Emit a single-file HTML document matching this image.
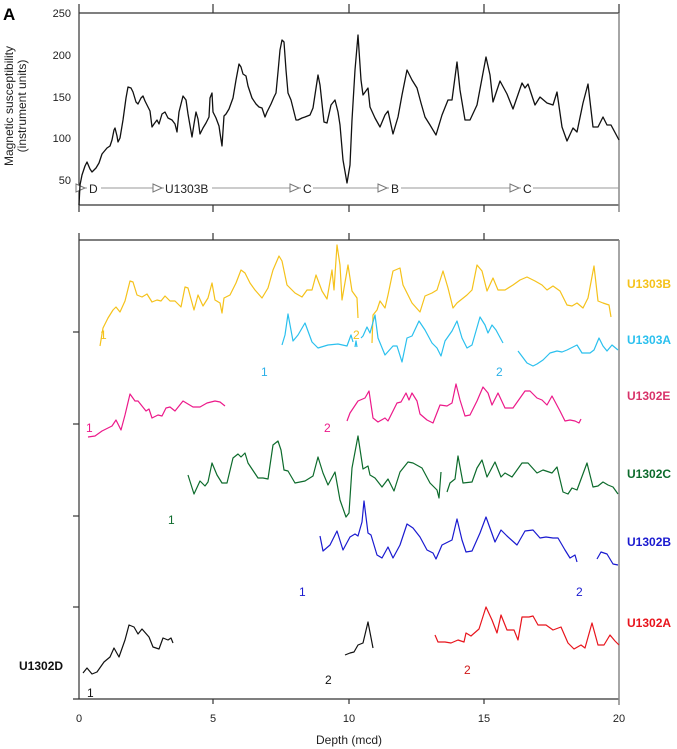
<!DOCTYPE html>
<html><head><meta charset="utf-8"><style>
body{margin:0;background:#fff}
svg{display:block;font-family:"Liberation Sans",Arial,sans-serif}
</style></head><body>
<svg width="677" height="749" viewBox="0 0 677 749" xmlns="http://www.w3.org/2000/svg">
<rect width="677" height="749" fill="#fff"/>
<text x="3" y="20" font-size="17" font-weight="bold">A</text>
<!-- top panel axes -->
<g stroke="#333" stroke-width="1.2" fill="none">
<line x1="79" y1="13" x2="619" y2="13"/>
<line x1="79" y1="205" x2="619" y2="205"/>
<line x1="79" y1="4" x2="79" y2="212"/>
<line x1="213" y1="4" x2="213" y2="13"/><line x1="349" y1="4" x2="349" y2="13"/><line x1="484" y1="4" x2="484" y2="13"/><line x1="619" y1="4" x2="619" y2="13"/>
<line x1="213" y1="205" x2="213" y2="212"/><line x1="349" y1="205" x2="349" y2="212"/><line x1="484" y1="205" x2="484" y2="212"/>
</g>
<line x1="619" y1="13" x2="619" y2="212" stroke="#888" stroke-width="1.5"/>
<g font-size="11" text-anchor="end" fill="#222">
<text x="71" y="17">250</text><text x="71" y="59">200</text><text x="71" y="101">150</text><text x="71" y="142">100</text><text x="71" y="184">50</text>
</g>
<text transform="translate(13,106) rotate(-90)" font-size="12" text-anchor="middle" fill="#222">Magnetic susceptibility</text>
<text transform="translate(26,106) rotate(-90)" font-size="12" text-anchor="middle" fill="#222">(instrument units)</text>
<!-- splice arrows -->
<line x1="79" y1="188" x2="619" y2="188" stroke="#999" stroke-width="1"/>
<g fill="#fff" stroke="#777" stroke-width="1">
<polygon points="76,184 85,188 76,192"/><polygon points="153,184 162,188 153,192"/><polygon points="290,184 299,188 290,192"/><polygon points="378,184 387,188 378,192"/><polygon points="510,184 519,188 510,192"/>
</g>
<g font-size="12" fill="#222">
<rect x="87" y="181" width="14" height="14" fill="#fff"/><text x="89" y="193">D</text>
<rect x="164" y="181" width="48" height="14" fill="#fff"/><text x="165" y="193">U1303B</text>
<rect x="301" y="181" width="12" height="14" fill="#fff"/><text x="303" y="193">C</text>
<rect x="389" y="181" width="12" height="14" fill="#fff"/><text x="391" y="193">B</text>
<rect x="521" y="181" width="12" height="14" fill="#fff"/><text x="523" y="193">C</text>
</g>
<polyline fill="none" stroke="#111" stroke-width="1.3" stroke-linejoin="round" points="79,205 80,185 82,175 85,166 87,162 90,169 92,172 96,168 99,163 102,154 107,148 110,146 112,140 114,130 115,128 117,136 118,142 120,138 123,120 126,98 128,87 131,88 133,92 136,102 138,104 141,98 143,96 145,101 148,107 150,111 152,127 154,124 157,120 159,124 162,114 165,112 168,118 172,120 175,124 177,132 179,112 183,96 186,100 188,114 192,137 194,124 196,112 198,119 200,134 203,128 206,123 209,117 210,98 212,93 213,112 216,118 219,126 220,133 222,146 224,116 226,114 229,109 233,98 236,80 239,64 241,67 243,74 246,76 248,86 252,98 256,104 259,107 262,108 265,117 267,112 271,104 274,97 276,93 278,72 280,50 282,40 284,42 286,70 288,93 291,100 294,112 296,120 298,120 302,118 305,117 310,115 313,108 318,75 320,85 324,122 327,123 331,105 335,100 338,112 340,125 343,160 347,183 350,165 352,120 355,70 358,35 361,80 363,95 368,88 370,107 375,118 380,127 385,115 388,111 393,134 398,117 402,95 407,70 412,80 417,88 421,103 425,117 430,125 436,135 442,115 448,100 452,100 457,62 460,90 465,120 470,120 477,105 486,57 490,75 493,102 500,81 507,94 513,109 522,83 525,88 528,84 535,105 540,97 547,103 553,105 557,92 562,127 567,141 573,128 577,132 583,103 588,84 593,127 598,127 603,117 607,125 611,125 619,140"/>
<!-- bottom panel axes -->
<g stroke="#333" stroke-width="1.2" fill="none">
<line x1="79" y1="240" x2="619" y2="240"/>
<line x1="73" y1="699" x2="619" y2="699"/>
<line x1="79" y1="233" x2="79" y2="699"/>
<line x1="213" y1="233" x2="213" y2="240"/><line x1="349" y1="233" x2="349" y2="240"/><line x1="484" y1="233" x2="484" y2="240"/>
<line x1="213" y1="699" x2="213" y2="704"/><line x1="349" y1="699" x2="349" y2="704"/><line x1="484" y1="699" x2="484" y2="704"/>
<line x1="73" y1="332" x2="79" y2="332"/><line x1="73" y1="424" x2="79" y2="424"/><line x1="73" y1="516" x2="79" y2="516"/><line x1="73" y1="607" x2="79" y2="607"/>
</g>
<line x1="619" y1="240" x2="619" y2="705" stroke="#888" stroke-width="1.5"/>
<g font-size="11" text-anchor="middle" fill="#222">
<text x="79" y="722">0</text><text x="213" y="722">5</text><text x="349" y="722">10</text><text x="484" y="722">15</text><text x="619" y="722">20</text>
<text x="349" y="744" font-size="12">Depth (mcd)</text>
</g>
<g fill="none" stroke-width="1.2" stroke-linejoin="round">
<polyline stroke="#f5c21b" points="100,346 103,328 108,318 113,310 116,307 120,312 125,301 130,281 133,282 137,295 142,297 147,294 152,302 157,300 161,301 165,296 170,301 175,301 181,307 185,287 188,288 194,310 198,295 203,306 208,298 212,283 215,300 220,303 222,313 224,298 230,295 236,283 241,270 245,273 250,283 255,290 262,298 268,288 273,270 279,256 282,261 287,285 295,293 302,297 307,290 312,290 316,275 322,291 327,299 332,270 334,290 337,245 340,265 342,300 348,265 352,291 357,298 358,318"/>
<polyline stroke="#f5c21b" points="372,343 373,315 377,310 380,301 385,308 388,295 393,271 400,268 403,285 412,303 420,312 425,296 432,293 437,290 443,271 448,288 453,308 457,303 467,295 472,290 477,265 482,271 487,291 493,278 498,290 505,290 513,285 520,280 527,277 535,281 542,285 547,290 553,286 560,291 567,305 572,306 577,303 583,308 588,298 594,266 598,301 603,303 609,305 611,317"/>
<polyline stroke="#2bc0ee" points="282,345 285,335 288,314 293,341 298,335 305,323 312,342 318,348 328,345 338,344 347,346 351,335 353,342"/>
<polyline stroke="#2bc0ee" points="355,347 356,341 357,347"/>
<polyline stroke="#2bc0ee" points="361,338 363,336 367,327 370,333 375,315 378,338 385,355 393,346 397,346 402,362 407,338 412,336 419,321 425,330 432,343 437,348 441,356 445,341 452,331 457,321 462,338 467,348 472,345 480,317 485,325 488,333 492,325 496,330 503,343"/>
<polyline stroke="#2bc0ee" points="518,351 527,363 533,366 537,364 543,360 550,353 557,351 562,352 567,350 577,345 582,353 590,353 594,350 599,338 603,346 607,351 612,345 618,350"/>
<polyline stroke="#ec1a8a" points="88,437 95,436 102,431 112,426 116,420 121,430 125,415 130,394 135,401 138,401 142,406 146,411 149,409 152,418 158,415 162,416 166,408 170,407 175,411 183,401 193,407 200,407 207,403 215,401 220,402 225,406"/>
<polyline stroke="#ec1a8a" points="347,421 350,413 358,401 365,398 369,391 373,418 378,422 385,418 388,421 397,403 401,402 406,393 409,400 412,393 417,401 420,414 427,420 433,423 440,405 447,406 452,403 456,384 460,400 465,416 470,415 477,401 483,387 488,393 492,405 498,393 505,408 513,408 525,391 530,391 537,398 542,400 547,405 552,396 560,411 565,421 570,420 575,421 579,423 581,419"/>
<polyline stroke="#0d6b2c" points="188,475 194,494 200,481 205,486 208,482 212,463 217,475 222,483 227,483 233,458 238,454 241,457 245,453 248,463 258,478 263,478 268,479 273,445 278,441 281,450 284,470 288,471 295,483 305,481 313,476 318,457 323,473 328,485 335,472 340,500 346,517 349,513 352,468 358,436 363,469 368,466 370,475 375,478 382,487 388,479 394,491 400,472 408,462 413,463 422,468 430,483 437,490 439,498 441,472"/>
<polyline stroke="#0d6b2c" points="447,492 450,483 455,479 458,456 463,483 472,482 477,468 482,460 487,477 495,462 501,477 505,473 512,477 522,463 528,463 537,473 543,470 552,473 557,467 563,492 568,494 572,488 577,490 587,463 593,487 598,486 603,482 608,485 613,487 618,494"/>
<polyline stroke="#1a1ad0" points="320,536 323,551 330,545 337,531 343,550 350,537 355,534 358,536 362,522 364,501 368,533 371,535 377,555 382,558 388,547 393,558 400,545 407,524 413,528 420,537 427,550 433,553 436,559 442,545 452,540 457,519 462,540 466,552 472,551 480,533 486,517 495,542 501,530 507,536 517,545 525,531 533,530 540,538 546,537 553,538 558,538 565,550 570,558 575,555 577,562"/>
<polyline stroke="#1a1ad0" points="597,559 601,552 607,554 613,564 618,565"/>
<polyline stroke="#111" points="83,673 87,668 92,674 97,672 104,662 110,657 114,648 119,657 125,640 129,625 134,627 138,634 142,629 149,637 153,647 159,649 163,638 168,640 171,638 173,643"/>
<polyline stroke="#111" points="345,655 350,653 354,652 358,645 363,643 368,622 373,648"/>
<polyline stroke="#e8141c" points="435,635 438,642 445,642 451,643 458,640 464,642 466,633 471,636 479,629 486,607 492,620 497,633 501,615 507,630 514,630 518,640 522,617 529,617 533,616 538,625 546,625 553,630 561,627 568,643 574,649 581,645 585,648 592,623 598,645 604,645 610,635 615,641 619,645"/>
</g>
<g font-size="12">
<text x="100" y="339" fill="#f5c21b">1</text><text x="353" y="339" fill="#f5c21b">2</text>
<text x="261" y="376" fill="#2bb0e8">1</text><text x="496" y="376" fill="#2bb0e8">2</text>
<text x="86" y="432" fill="#ec1a8a">1</text><text x="324" y="432" fill="#ec1a8a">2</text>
<text x="168" y="524" fill="#0d6b2c">1</text>
<text x="299" y="596" fill="#1a1ad0">1</text><text x="576" y="596" fill="#1a1ad0">2</text>
<text x="87" y="697" fill="#111">1</text><text x="325" y="684" fill="#111">2</text>
<text x="464" y="674" fill="#d01818">2</text>
</g>
<g font-size="12" font-weight="bold">
<text x="627" y="288" fill="#f5c21b">U1303B</text>
<text x="627" y="344" fill="#2bc0ee">U1303A</text>
<text x="627" y="400" fill="#d8336a">U1302E</text>
<text x="627" y="478" fill="#0d6b2c">U1302C</text>
<text x="627" y="546" fill="#1a1ad0">U1302B</text>
<text x="627" y="627" fill="#e8141c">U1302A</text>
<text x="19" y="670" fill="#111">U1302D</text>
</g>
</svg>
</body></html>
